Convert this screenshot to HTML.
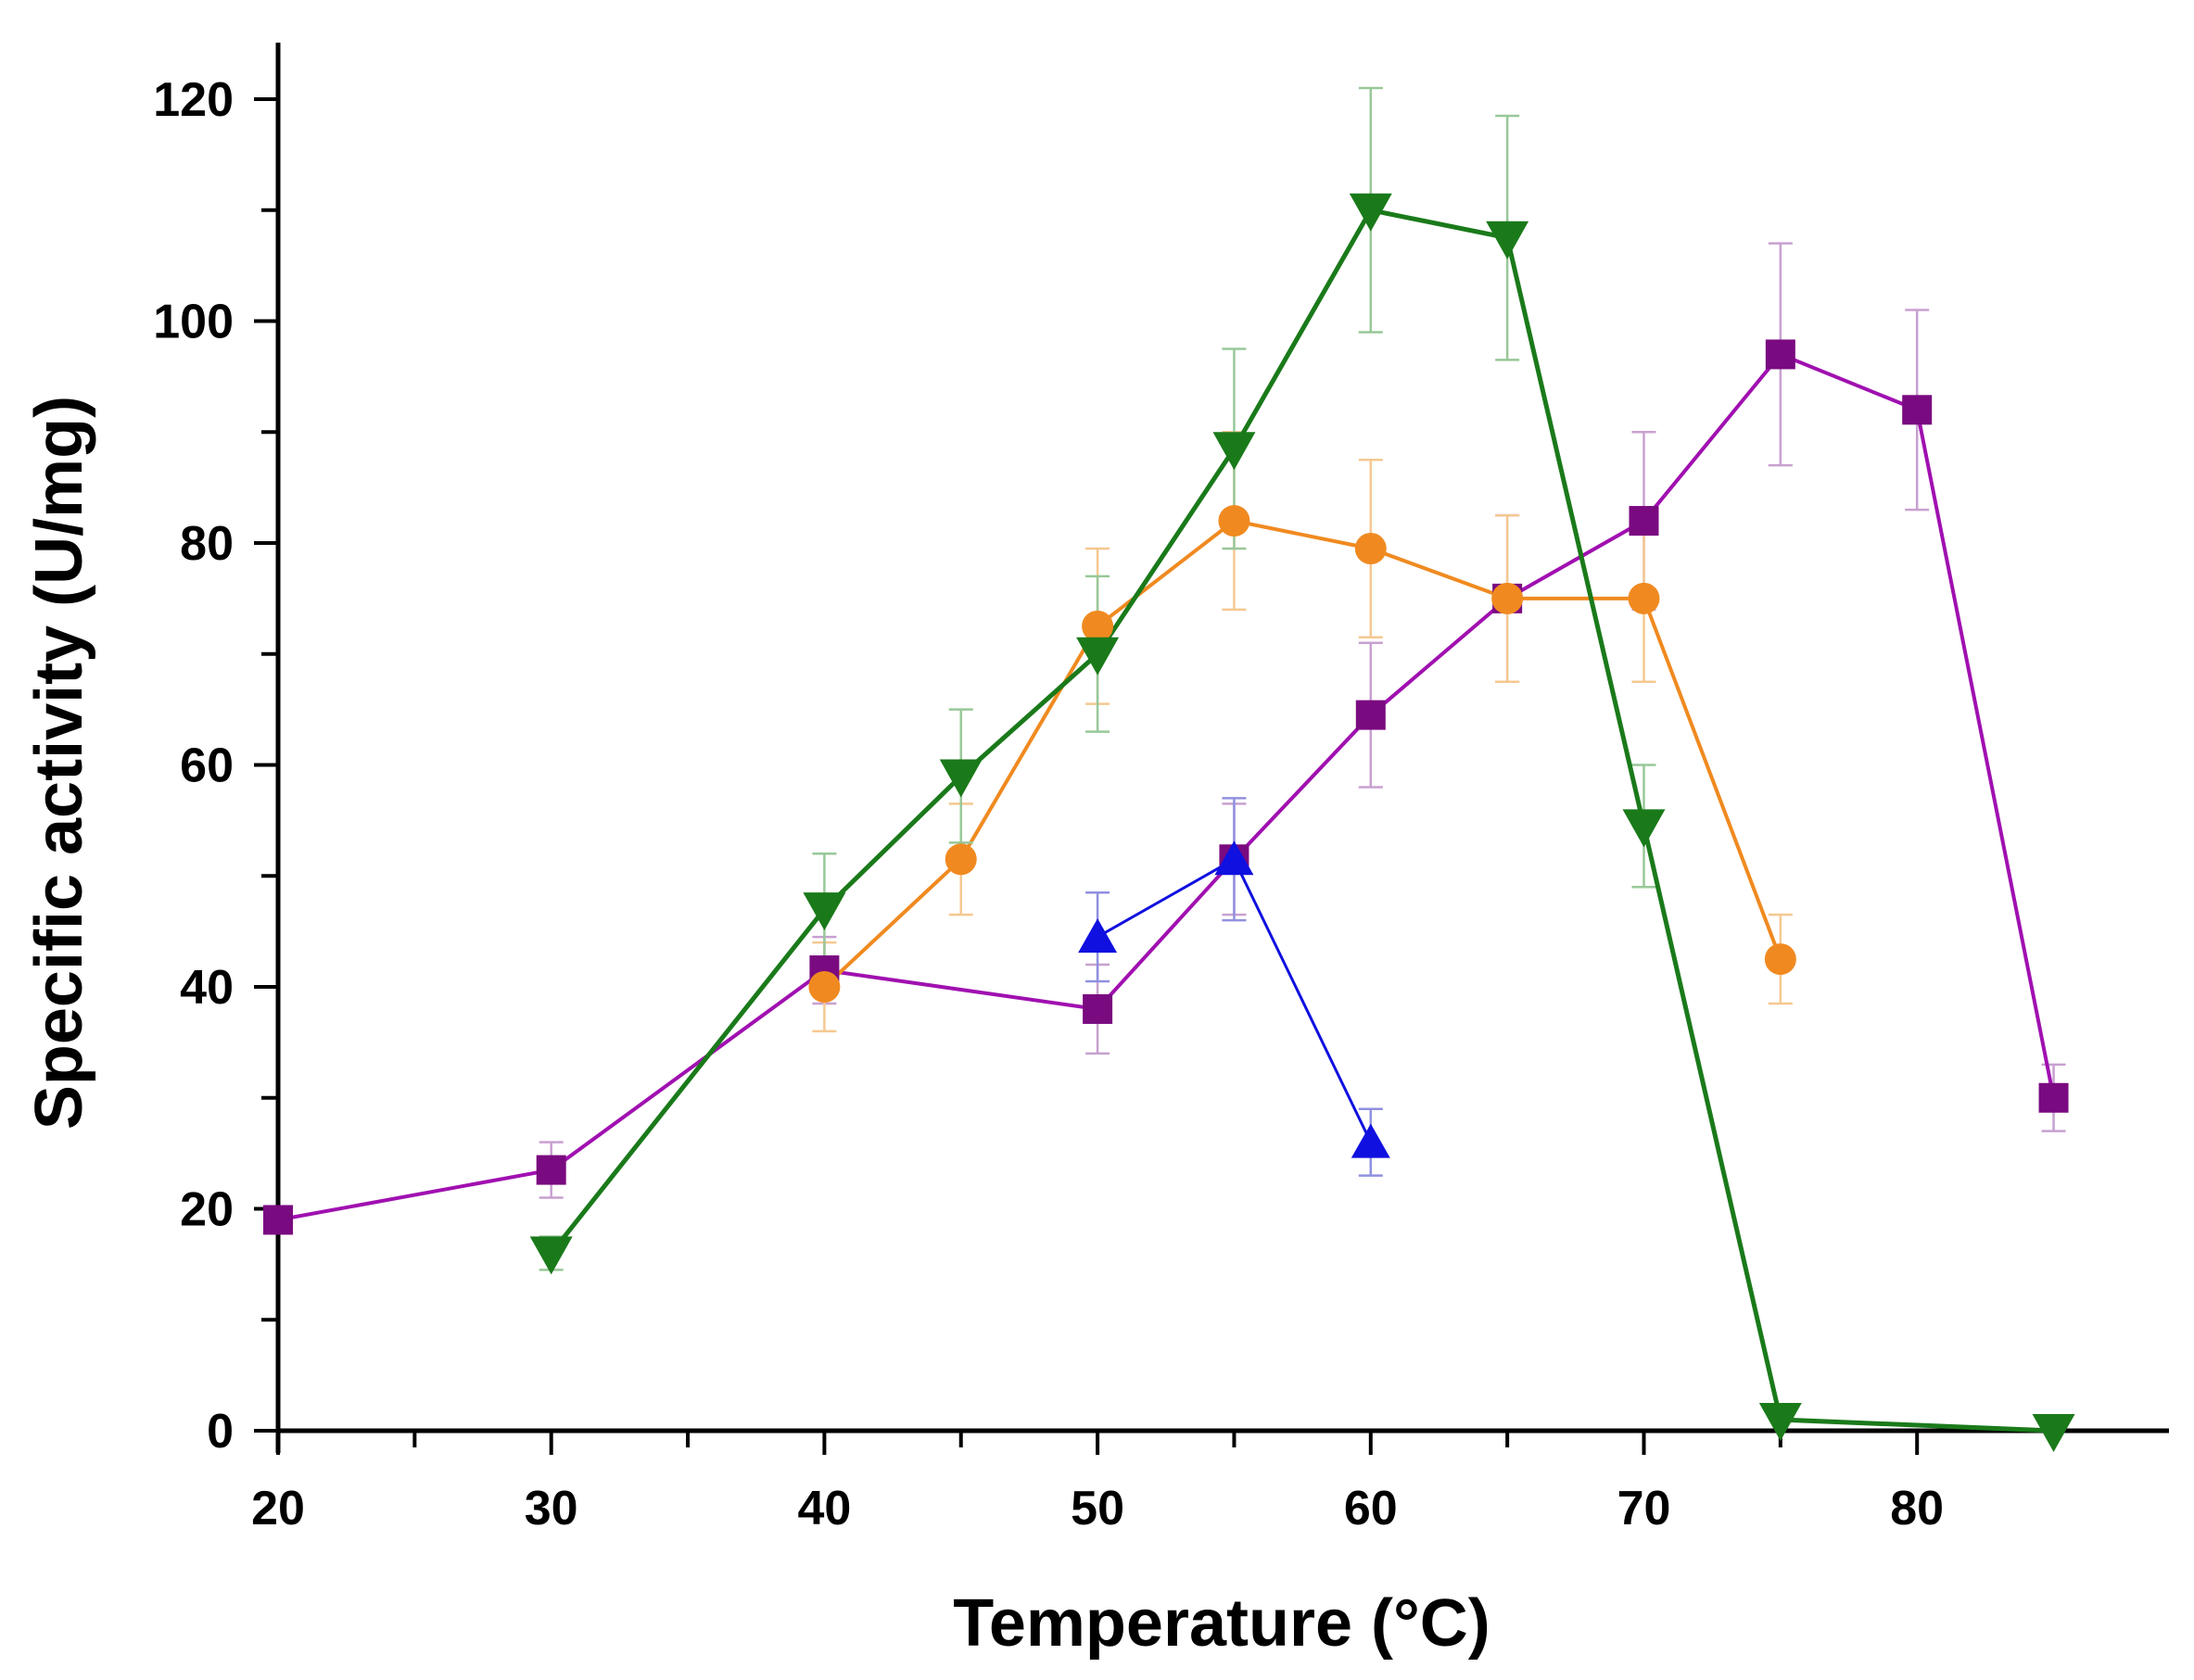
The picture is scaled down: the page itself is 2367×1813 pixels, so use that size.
<!DOCTYPE html>
<html><head><meta charset="utf-8"><style>
html,body{margin:0;padding:0;background:#fff;}
svg{display:block;}
</style></head><body>
<svg id="s" width="2367" height="1813" xmlns="http://www.w3.org/2000/svg"></svg>
<script>
const s=document.getElementById('s');
const X=v=>300+(v-20)*29.47, Y=v=>1544-v*11.975;
let h='';
h+=`<line x1="300" y1="46" x2="300" y2="1568" stroke="#000" stroke-width="5"/>`;
h+=`<line x1="298" y1="1544" x2="2340" y2="1544" stroke="#000" stroke-width="5"/>`;
for(let v=20;v<=85;v+=5){const x=X(v);const maj=v%10==0;h+=`<line x1="${x}" y1="1544" x2="${x}" y2="${maj?1570:1562}" stroke="#000" stroke-width="4"/>`;
 if(maj)h+=`<text x="${x}" y="1645" font-family="Liberation Sans,sans-serif" font-weight="bold" font-size="52" text-anchor="middle">${v}</text>`;}
for(let v=0;v<=120;v+=10){const y=Y(v);const maj=v%20==0;h+=`<line x1="${maj?274:282}" y1="${y}" x2="300" y2="${y}" stroke="#000" stroke-width="4"/>`;
 if(maj)h+=`<text x="252" y="${y+18}" font-family="Liberation Sans,sans-serif" font-weight="bold" font-size="52" text-anchor="end">${v}</text>`;}
h+=`<text x="1318" y="1776" font-family="Liberation Sans,sans-serif" font-weight="bold" font-size="72" text-anchor="middle">Temperature (°C)</text>`;
h+=`<text transform="translate(88,823) rotate(-90)" font-family="Liberation Sans,sans-serif" font-weight="bold" font-size="72" text-anchor="middle">Specific activity (U/mg)</text>`;
const series=[
 {c:'#a010b0',m:'#7a0a80',e:'#c8a0d0',w:4,t:'sq',d:[[20,19,0],[30,23.5,2.5],[40,41.5,3],[50,38,4],[55,51.5,5],[60,64.5,6.5],[65,75,7.5],[70,82,8],[75,97,10],[80,92,9],[85,30,3]]},
 {c:'#f08a20',m:'#f08a20',e:'#f5c890',w:4,t:'ci',d:[[40,40,4],[45,51.5,5],[50,72.5,7],[55,82,8],[60,79.5,8],[65,75,7.5],[70,75,7.5],[75,42.5,4]]},
 {c:'#1a7a1a',m:'#1a7a1a',e:'#98c898',w:5,t:'dn',d:[[30,16,1.5],[40,47,5],[45,59,6],[50,70,7],[55,88.5,9],[60,110,11],[65,107.5,11],[70,54.5,5.5],[75,1,0],[85,0,0]]},
 {c:'#1010e0',m:'#1010e0',e:'#9090e0',w:3,t:'up',d:[[50,44.5,4],[55,51.5,5.5],[60,26,3]]}
];
for(const S of series){
 for(const [x,y,e] of S.d){if(!e)continue;const px=X(x),a=Y(y+e),b=Y(y-e);
  h+=`<g stroke="${S.e}" stroke-width="2.5"><line x1="${px}" y1="${a}" x2="${px}" y2="${b}"/><line x1="${px-13}" y1="${a}" x2="${px+13}" y2="${a}"/><line x1="${px-13}" y1="${b}" x2="${px+13}" y2="${b}"/></g>`;}
 h+=`<polyline fill="none" stroke="${S.c}" stroke-width="${S.w}" points="${S.d.map(p=>X(p[0])+','+Y(p[1])).join(' ')}"/>`;
}
for(const S of series){
 for(const [x,y] of S.d){const px=X(x),py=Y(y);
  if(S.t=='sq')h+=`<rect x="${px-16}" y="${py-16}" width="32" height="32" fill="${S.m}"/>`;
  if(S.t=='ci')h+=`<circle cx="${px}" cy="${py}" r="17" fill="${S.m}"/>`;
  if(S.t=='dn')h+=`<polygon points="${px-23},${py-18} ${px+23},${py-18} ${px},${py+23}" fill="${S.m}"/>`;
  if(S.t=='up')h+=`<polygon points="${px-21},${py+17} ${px+21},${py+17} ${px},${py-20}" fill="${S.m}"/>`;
 }}
s.innerHTML=h;
</script>
</body></html>
